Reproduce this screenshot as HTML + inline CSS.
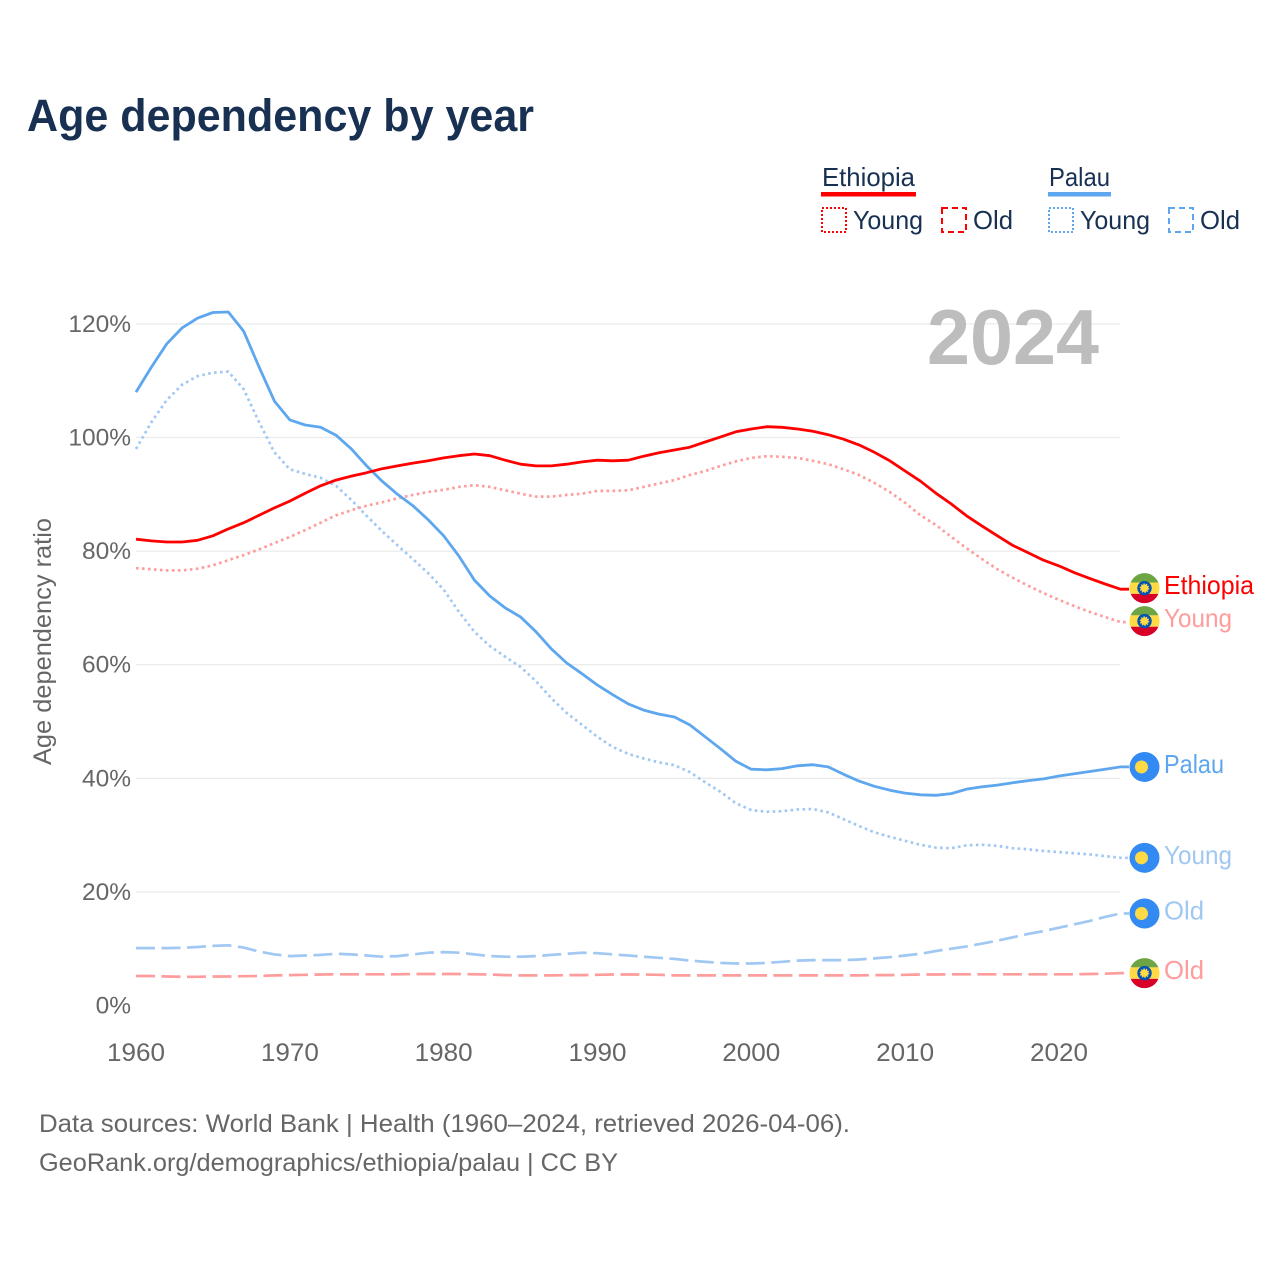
<!DOCTYPE html>
<html lang="en">
<head>
<meta charset="utf-8">
<title>Age dependency by year</title>
<style>
html,body{margin:0;padding:0;background:#fff;}
svg{display:block;font-family:"Liberation Sans",sans-serif;}
</style>
</head>
<body>
<svg id="chart" xmlns="http://www.w3.org/2000/svg" width="1280" height="1280" viewBox="0 0 1280 1280">
  <rect x="0" y="0" width="1280" height="1280" fill="#fff"/>
  <text x="27" y="131" font-size="45" font-weight="700" fill="#183153" textLength="507" lengthAdjust="spacingAndGlyphs">Age dependency by year</text>

  <g font-size="26" fill="#183153">
    <g>
      <text x="822" y="186" textLength="93" lengthAdjust="spacingAndGlyphs">Ethiopia</text>
      <rect x="821" y="192" width="95" height="4.5" fill="#ff0000"/>
      <rect x="822" y="208" width="24" height="24" fill="none" stroke="#ff0000" stroke-width="2" stroke-dasharray="2 2"/>
      <text x="853" y="229" textLength="70" lengthAdjust="spacingAndGlyphs">Young</text>
      <rect x="942" y="208" width="24" height="24" fill="none" stroke="#ff0000" stroke-width="2" stroke-dasharray="6 4"/>
      <text x="973" y="229" textLength="40" lengthAdjust="spacingAndGlyphs">Old</text>
    </g>
    <g>
      <text x="1049" y="186" textLength="61" lengthAdjust="spacingAndGlyphs">Palau</text>
      <rect x="1048" y="192" width="63" height="4.5" fill="#5ea7ee"/>
      <rect x="1049" y="208" width="24" height="24" fill="none" stroke="#5ea7ee" stroke-width="2" stroke-dasharray="2 2"/>
      <text x="1080" y="229" textLength="70" lengthAdjust="spacingAndGlyphs">Young</text>
      <rect x="1169" y="208" width="24" height="24" fill="none" stroke="#5ea7ee" stroke-width="2" stroke-dasharray="6 4"/>
      <text x="1200" y="229" textLength="40" lengthAdjust="spacingAndGlyphs">Old</text>
    </g>
  </g>

  <g id="grid"></g>
  <text x="927" y="364" font-size="78" font-weight="700" fill="#bdbdbd" textLength="172" lengthAdjust="spacingAndGlyphs">2024</text>
  <g id="yticks" font-size="24.5" fill="#666"></g>
  <g id="xticks" font-size="25" fill="#666"></g>
  <text transform="translate(51,765) rotate(-90)" font-size="25" fill="#666" textLength="247" lengthAdjust="spacingAndGlyphs">Age dependency ratio</text>
  <g id="series"></g>
  <g id="endlabels" font-size="26"></g>

  <g font-size="25" fill="#666">
    <text x="39" y="1132" textLength="811" lengthAdjust="spacingAndGlyphs">Data sources: World Bank | Health (1960–2024, retrieved 2026-04-06).</text>
    <text x="39" y="1171" textLength="579" lengthAdjust="spacingAndGlyphs">GeoRank.org/demographics/ethiopia/palau | CC BY</text>
  </g>
</svg>

<script>
const years = [1960,1961,1962,1963,1964,1965,1966,1967,1968,1969,1970,1971,1972,1973,1974,1975,1976,1977,1978,1979,1980,1981,1982,1983,1984,1985,1986,1987,1988,1989,1990,1991,1992,1993,1994,1995,1996,1997,1998,1999,2000,2001,2002,2003,2004,2005,2006,2007,2008,2009,2010,2011,2012,2013,2014,2015,2016,2017,2018,2019,2020,2021,2022,2023,2024];
const ethiopiaTotal = [82.1,81.8,81.6,81.6,81.9,82.7,83.9,85,86.3,87.6,88.8,90.2,91.5,92.5,93.2,93.8,94.5,95,95.5,95.9,96.4,96.8,97.1,96.8,96,95.3,95,95,95.3,95.7,96,95.9,96,96.7,97.3,97.8,98.3,99.2,100.1,101,101.5,101.9,101.8,101.5,101.1,100.5,99.7,98.7,97.4,95.9,94.1,92.3,90.2,88.3,86.2,84.4,82.7,81,79.7,78.4,77.4,76.2,75.2,74.2,73.3];
const ethiopiaYoung = [77,76.8,76.6,76.6,76.9,77.5,78.4,79.3,80.3,81.4,82.5,83.7,85,86.3,87.2,88,88.6,89.3,89.9,90.4,90.8,91.3,91.6,91.3,90.7,90.1,89.6,89.6,89.9,90.1,90.6,90.6,90.7,91.3,91.9,92.5,93.4,94.1,95,95.8,96.4,96.7,96.6,96.4,95.9,95.3,94.4,93.4,92,90.4,88.5,86.3,84.6,82.5,80.5,78.6,76.8,75.3,73.9,72.6,71.4,70.3,69.3,68.4,67.5];
const ethiopiaOld = [5.2,5.2,5.1,5.05,5.05,5.1,5.1,5.15,5.2,5.3,5.35,5.4,5.45,5.5,5.5,5.5,5.5,5.5,5.55,5.55,5.55,5.55,5.5,5.45,5.35,5.3,5.3,5.3,5.35,5.35,5.4,5.45,5.45,5.45,5.4,5.3,5.3,5.3,5.3,5.3,5.3,5.3,5.3,5.3,5.3,5.3,5.3,5.3,5.35,5.35,5.4,5.45,5.45,5.5,5.5,5.5,5.5,5.5,5.5,5.5,5.5,5.5,5.55,5.6,5.7];
const palauTotal = [108,112.4,116.5,119.3,121,122,122.1,118.7,112.4,106.4,103.1,102.2,101.8,100.4,98,95,92.3,90,88,85.5,82.7,79.1,74.9,72.1,70,68.4,65.8,62.8,60.3,58.4,56.4,54.7,53.1,52,51.3,50.8,49.4,47.3,45.2,43,41.6,41.5,41.7,42.2,42.4,42,40.7,39.5,38.6,37.9,37.4,37.1,37,37.3,38.1,38.5,38.8,39.2,39.6,39.9,40.4,40.8,41.2,41.6,42];
const palauYoung = [98,102.7,106.6,109.3,110.8,111.4,111.6,108.5,102.7,97.4,94.4,93.6,92.9,91.5,89,86.2,83.5,81,78.6,76.1,73.2,69.3,65.8,63.3,61.4,59.6,57.1,54.1,51.5,49.4,47.3,45.5,44.3,43.5,42.8,42.3,41.1,39.3,37.6,35.6,34.4,34.1,34.2,34.5,34.6,34,32.8,31.6,30.5,29.7,29,28.3,27.8,27.7,28.2,28.3,28.1,27.7,27.5,27.2,27,26.8,26.6,26.3,26];
const palauOld = [10.1,10.1,10.1,10.15,10.3,10.5,10.6,10.2,9.5,9,8.7,8.8,8.9,9.1,9,8.8,8.6,8.7,9,9.3,9.4,9.3,9,8.7,8.6,8.6,8.7,8.9,9.1,9.3,9.2,9,8.8,8.6,8.4,8.2,7.9,7.7,7.5,7.4,7.4,7.5,7.7,7.9,8,8,8,8.1,8.3,8.5,8.8,9.1,9.6,10,10.4,10.9,11.4,12,12.6,13.1,13.7,14.3,14.9,15.6,16.2];
const yTickValues = [0,20,40,60,80,100,120];
const xTickValues = [1960,1970,1980,1990,2000,2010,2020];

const NS = 'http://www.w3.org/2000/svg';
const xPos = function (yr) { return 136 + (yr - 1960) * 15.383; };
const yPos = function (v) { return 1005.5 - v * 5.68; };
const make = function (tag, parent) {
  const el = document.createElementNS(NS, tag);
  parent.appendChild(el);
  return el;
};

const gridG = document.getElementById('grid');
const yG = document.getElementById('yticks');
yTickValues.forEach(function (v) {
  if (v > 0) {
    const ln = make('line', gridG);
    
    
    ln.setAttribute('x1', 136);
    ln.setAttribute('x2', 1120);
    ln.setAttribute('y1', yPos(v));
    ln.setAttribute('y2', yPos(v));
    ln.setAttribute('stroke', '#ebebeb');
    ln.setAttribute('stroke-width', 1.3);
  }
  const t = make('text', yG);
  
  
  t.setAttribute('x', 131);
  t.setAttribute('y', yPos(v) + 8);
  t.setAttribute('text-anchor', 'end');
  t.textContent = v + '%';
});

const xG = document.getElementById('xticks');
xTickValues.forEach(function (yr) {
  const t = make('text', xG);
  
  
  t.setAttribute('x', xPos(yr) - 29);
  t.setAttribute('y', 1061);
  t.setAttribute('textLength', 58);
  t.setAttribute('lengthAdjust', 'spacingAndGlyphs');
  t.textContent = String(yr);
});

const seriesG = document.getElementById('series');
const labelG = document.getElementById('endlabels');

const drawLine = function (name, values, color, width, dash) {
  const p = make('polyline', seriesG);
  const pts = values.map(function (v, i) { return xPos(years[i]).toFixed(1) + ',' + yPos(v).toFixed(1); });
  pts.push('1129,' + yPos(values[values.length - 1]).toFixed(1));
  
  
  p.setAttribute('points', pts.join(' '));
  p.setAttribute('fill', 'none');
  p.setAttribute('stroke', color);
  p.setAttribute('stroke-width', width);
  p.setAttribute('stroke-linejoin', 'round');
  if (dash) p.setAttribute('stroke-dasharray', dash);
};

const drawEthiopiaFlag = function (name, cy) {
  const g = make('g', labelG);
  
  
  const cx = 1144.5;
  const r = 15;
  const band = 5.7;
  const chord = Math.sqrt(r * r - band * band);
  const top = make('path', g);
  top.setAttribute('d', 'M' + (cx - chord) + ' ' + (cy - band) + 'A15 15 0 0 1 ' + (cx + chord) + ' ' + (cy - band) + 'Z');
  top.setAttribute('fill', '#6da544');
  const mid = make('path', g);
  mid.setAttribute('d', 'M' + (cx - chord) + ' ' + (cy - band) + 'A15 15 0 0 0 ' + (cx - chord) + ' ' + (cy + band) + 'L' + (cx + chord) + ' ' + (cy + band) + 'A15 15 0 0 0 ' + (cx + chord) + ' ' + (cy - band) + 'Z');
  mid.setAttribute('fill', '#ffda44');
  const bottom = make('path', g);
  bottom.setAttribute('d', 'M' + (cx - chord) + ' ' + (cy + band) + 'A15 15 0 0 0 ' + (cx + chord) + ' ' + (cy + band) + 'Z');
  bottom.setAttribute('fill', '#d80027');
  const disc = make('circle', g);
  disc.setAttribute('cx', cx);
  disc.setAttribute('cy', cy);
  disc.setAttribute('r', 7.2);
  disc.setAttribute('fill', '#0052b4');
  const star = make('circle', g);
  star.setAttribute('cx', cx);
  star.setAttribute('cy', cy);
  star.setAttribute('r', 3.8);
  star.setAttribute('fill', '#ffda44');
  star.setAttribute('stroke', '#ffda44');
  star.setAttribute('stroke-width', 2);
  star.setAttribute('stroke-dasharray', '1.2 1.2');
};

const drawPalauFlag = function (name, cy) {
  const g = make('g', labelG);
  
  
  const base = make('circle', g);
  base.setAttribute('cx', 1144.5);
  base.setAttribute('cy', cy);
  base.setAttribute('r', 15);
  base.setAttribute('fill', '#338af3');
  const moon = make('circle', g);
  moon.setAttribute('cx', 1141.5);
  moon.setAttribute('cy', cy);
  moon.setAttribute('r', 6.5);
  moon.setAttribute('fill', '#ffda44');
};

const drawLabel = function (name, text, cy, color, widthPx) {
  const t = make('text', labelG);
  
  
  t.setAttribute('x', 1164);
  t.setAttribute('y', cy + 8);
  t.setAttribute('fill', color);
  t.setAttribute('textLength', widthPx);
  t.setAttribute('lengthAdjust', 'spacingAndGlyphs');
  t.textContent = text;
};

const RED = '#ff0000';
const RED_LIGHT = '#ff9c9c';
const BLUE = '#5ea7ee';
const BLUE_LIGHT = '#a0c8f3';

drawLine('line-palau-old', palauOld, BLUE_LIGHT, 2.7, '19 6.5');
drawLine('line-ethiopia-old', ethiopiaOld, RED_LIGHT, 2.7, '19 6.5');
drawLine('line-palau-young', palauYoung, BLUE_LIGHT, 2.7, '2.6 3.4');
drawLine('line-ethiopia-young', ethiopiaYoung, RED_LIGHT, 2.7, '2.6 3.4');
drawLine('line-palau-total', palauTotal, BLUE, 2.8, null);
drawLine('line-ethiopia-total', ethiopiaTotal, RED, 2.8, null);

const last = function (arr) { return yPos(arr[arr.length - 1]); };

drawEthiopiaFlag('flag-ethiopia-total', last(ethiopiaTotal) - 1);
drawLabel('end-label-ethiopia', 'Ethiopia', last(ethiopiaTotal) - 3, RED, 90);
drawEthiopiaFlag('flag-ethiopia-young', last(ethiopiaYoung) - 1);
drawLabel('end-label-ethiopia-young', 'Young', last(ethiopiaYoung) - 3, RED_LIGHT, 68);
drawPalauFlag('flag-palau-total', last(palauTotal));
drawLabel('end-label-palau', 'Palau', last(palauTotal) - 2, BLUE, 60);
drawPalauFlag('flag-palau-young', last(palauYoung));
drawLabel('end-label-palau-young', 'Young', last(palauYoung) - 2, BLUE_LIGHT, 68);
drawPalauFlag('flag-palau-old', last(palauOld));
drawLabel('end-label-palau-old', 'Old', last(palauOld) - 2, BLUE_LIGHT, 40);
drawEthiopiaFlag('flag-ethiopia-old', last(ethiopiaOld));
drawLabel('end-label-ethiopia-old', 'Old', last(ethiopiaOld) - 2, RED_LIGHT, 40);
</script>
</body>
</html>
